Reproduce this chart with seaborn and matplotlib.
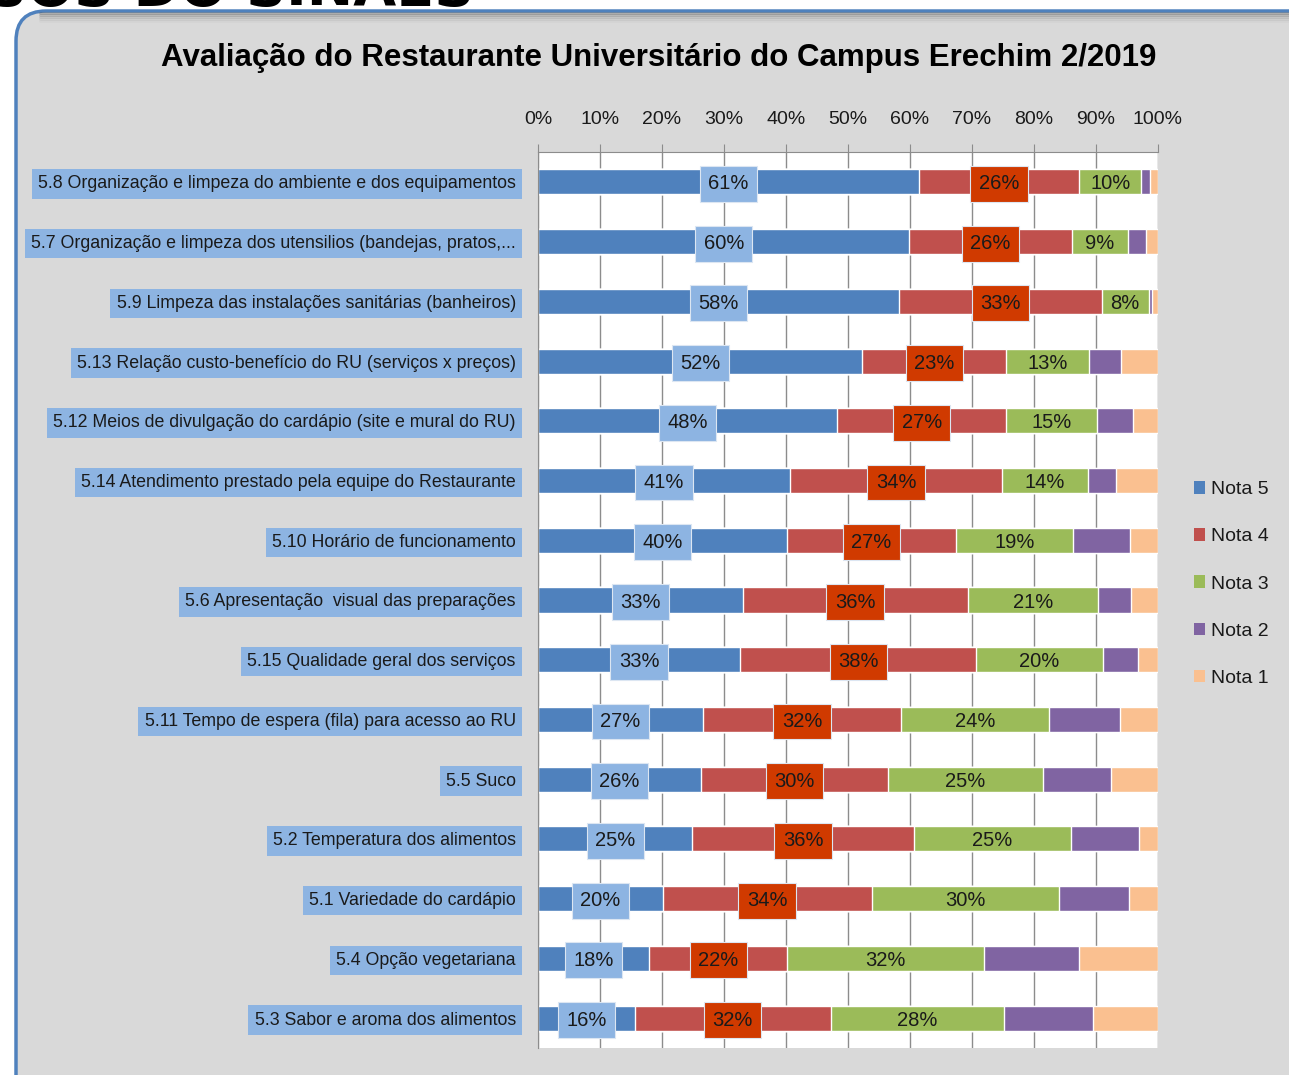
import numpy as np
import pandas as pd
import matplotlib
matplotlib.use("Agg")
import matplotlib.pyplot as plt
import seaborn as sns
from matplotlib.patches import FancyBboxPatch, Patch

categorias = ["5.8 Organização e limpeza do ambiente e dos equipamentos",
              "5.7 Organização e limpeza dos utensilios (bandejas, pratos,...",
              "5.9 Limpeza das instalações sanitárias (banheiros)",
              "5.13 Relação custo-benefício do RU (serviços x preços)",
              "5.12 Meios de divulgação do cardápio (site e mural do RU)",
              "5.14 Atendimento prestado pela equipe do Restaurante",
              "5.10 Horário de funcionamento",
              "5.6 Apresentação  visual das preparações",
              "5.15 Qualidade geral dos serviços",
              "5.11 Tempo de espera (fila) para acesso ao RU",
              "5.5 Suco",
              "5.2 Temperatura dos alimentos",
              "5.1 Variedade do cardápio",
              "5.4 Opção vegetariana",
              "5.3 Sabor e aroma dos alimentos"]
nota5 = [61.4, 59.9, 58.2, 52.3, 48.3, 40.6, 40.1, 33.0, 32.6, 26.6, 26.3, 24.9, 20.1, 17.9, 15.6]
nota4 = [25.9, 26.2, 32.7, 23.2, 27.2, 34.3, 27.4, 36.3, 38.1, 32.0, 30.1, 35.7, 33.7, 22.3, 31.6]
nota3 = [10.0, 9.0, 7.6, 13.4, 14.7, 13.8, 18.8, 21.0, 20.4, 23.9, 25.1, 25.3, 30.2, 31.7, 28.0]
nota2 = [1.4, 2.9, 0.6, 5.2, 5.8, 4.6, 9.2, 5.4, 5.7, 11.4, 10.9, 11.0, 11.4, 15.4, 14.3]
nota1 = [1.3, 2.0, 0.9, 5.9, 4.0, 6.7, 4.5, 4.3, 3.2, 6.1, 7.6, 3.1, 4.6, 12.7, 10.5]

series = ["Nota 5", "Nota 4", "Nota 3", "Nota 2", "Nota 1"]
cores = ["#4F81BD", "#C0504D", "#9BBB59", "#8064A2", "#FAC090"]

df = pd.DataFrame({"cat": categorias, "Nota 5": nota5, "Nota 4": nota4,
                   "Nota 3": nota3, "Nota 2": nota2, "Nota 1": nota1})
acum = df[series].cumsum(axis=1)

sns.set_style("white")
plt.rcParams["font.family"] = ["Liberation Sans", "DejaVu Sans"]

fig = plt.figure(figsize=(12.89, 10.75), dpi=100, facecolor="white")

# fundo cinza arredondado
fundo = FancyBboxPatch((0.16, -0.6), 14.0, 11.24, boxstyle="round,pad=0,rounding_size=0.3",
                       transform=fig.dpi_scale_trans, facecolor="#D9D9D9",
                       edgecolor="#4F81BD", lw=2.5, zorder=-5)
fig.patches.append(fundo)
# sombra na borda de cima
for k, a in enumerate([0.35, 0.25, 0.16, 0.09, 0.04]):
    fig.add_artist(plt.Line2D([40 / 1289, 1.0], [1 - (13 + 2 * k) / 1075] * 2, color="#595959",
                              alpha=a, lw=2, transform=fig.transFigure, zorder=-4))
fig.text(-0.01, 1 - 5 / 1075, "SOS DO SINAES", fontsize=40, weight="bold",
         color="black", va="baseline", ha="left", family=["DejaVu Sans"])

ax = fig.add_axes([538 / 1289, 1 - 1048 / 1075, 620 / 1289, 896 / 1075])
ax.set_zorder(2)
ax.set_facecolor("white")

# barras empilhadas: do acumulado maior para o menor
for s, c in zip(series[::-1], cores[::-1]):
    sns.barplot(x=acum[s], y=df["cat"], color=c, orient="h", width=0.42,
                saturation=1, ax=ax, zorder=2)

ax.set_xlim(0, 100)
ax.set_ylim(14.5, -0.5)
ax.set_xlabel("")
ax.set_ylabel("")

ax.xaxis.tick_top()
ax.set_xticks(range(0, 101, 10))
ax.set_xticklabels([f"{v}%" for v in range(0, 101, 10)], fontsize=14, color="#1a1a1a")
ax.tick_params(axis="x", length=6, color="#8C8C8C", pad=11)
ax.xaxis.grid(True, color="#8C8C8C", lw=1)
ax.set_axisbelow(True)

ax.set_yticks(range(len(categorias)))
ax.set_yticklabels(categorias, fontsize=12.8, color="#1a1a1a")
ax.set_yticks(np.arange(-0.5, 15, 1), minor=True)
ax.tick_params(axis="y", which="major", length=0, pad=16)
ax.tick_params(axis="y", which="minor", length=8, color="#8C8C8C")
for t in ax.get_yticklabels():
    t.set_bbox(dict(facecolor="#8DB4E2", edgecolor="none", pad=4.5))

for lado in ["right", "bottom"]:
    ax.spines[lado].set_visible(False)
for lado in ["left", "top"]:
    ax.spines[lado].set_color("#8C8C8C")

# rótulos de dados
inicio = acum.shift(1, axis=1).fillna(0)
for i in range(len(df)):
    for s, fundo_cor in [("Nota 5", "#8DB4E2"), ("Nota 4", "#D03A00"), ("Nota 3", None)]:
        meio = inicio.loc[i, s] + df.loc[i, s] / 2
        txt = f"{round(df.loc[i, s]):.0f}%"
        if fundo_cor:
            ax.text(meio, i, txt, ha="center", va="center_baseline", fontsize=14.5, color="#1a1a1a",
                    zorder=5, bbox=dict(boxstyle="square,pad=0.42", facecolor=fundo_cor,
                                        edgecolor="#DCE6F2", lw=0.8))
        else:
            ax.text(meio, i, txt, ha="center", va="center_baseline", fontsize=14.5,
                    color="#1a1a1a", zorder=5)

alcas = [Patch(facecolor=c, edgecolor="none") for c in cores]
fig.legend(alcas, series, loc="center left", bbox_to_anchor=(1176 / 1289, 1 - 584 / 1075),
           frameon=False, fontsize=14, handlelength=0.6, handleheight=0.6,
           handletextpad=0.3, labelspacing=1.55, labelcolor="#1a1a1a")

fig.text(659 / 1289, 1 - 58 / 1075, "Avaliação do Restaurante Universitário do Campus Erechim 2/2019",
         ha="center", va="center", fontsize=22.5, weight="bold", color="black")

fig.savefig("out.png", dpi=100, facecolor="white")
